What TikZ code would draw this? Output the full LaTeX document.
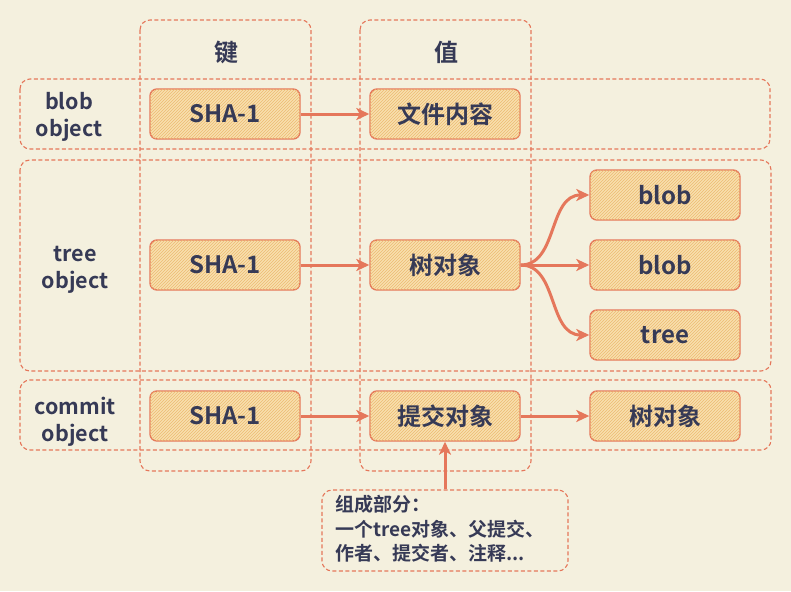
\documentclass[tikz,border=0pt]{standalone}
\usepackage{fontspec}
\setmainfont{Noto Sans CJK SC}[BoldFont={Noto Sans CJK SC Bold}]
\usetikzlibrary{arrows.meta,patterns}
\definecolor{bgc}{HTML}{F4F0DE}
\definecolor{strk}{HTML}{E5775B}
\definecolor{txt}{HTML}{363A56}
\definecolor{fillc}{HTML}{F8E0AE}
\definecolor{hatch}{HTML}{EDBB72}
\tikzset{
  dbox/.style={draw=strk, line width=1.1pt, dash pattern=on 4pt off 2.5pt, rounded corners=10pt},
  sbox/.style={draw=strk, line width=1.4pt, rounded corners=7pt, fill=fillc,
    postaction={pattern=north east lines, pattern color=hatch},
    minimum width=150pt, minimum height=50pt, inner sep=0pt,
    font=\bfseries\fontsize{24}{28}\selectfont, text=txt},
  lbl/.style={font=\bfseries\fontsize{21.5}{27}\selectfont, text=txt, align=center},
  arr/.style={draw=strk, line width=3pt, -{Stealth[length=13pt,width=12pt,inset=3.5pt]}},
}
\begin{document}
\begin{tikzpicture}[x=1pt,y=-1pt]
\fill[bgc] (0,0) rectangle (791,591);
\useasboundingbox (0,0) rectangle (791,591);
% column frames
\draw[dbox] (140,20) rectangle (311,471);
\draw[dbox] (360,20) rectangle (531,471);
% row frames
\draw[dbox] (20,79) rectangle (770,149);
\draw[dbox] (20,160) rectangle (771,371);
\draw[dbox] (20,380) rectangle (771,450);
% headers
\node[lbl, font=\bfseries\fontsize{24}{28}\selectfont] (hk) at (226,52) {键};
\node[lbl, font=\bfseries\fontsize{24}{28}\selectfont] (hv) at (446,52) {值};
% row labels
\node[lbl] (lb1) at (69,117) {blob\\object};
\node[lbl] (lb2) at (75,270) {tree\\object};
\node[lbl] (lb3) at (75,422) {commit\\object};
% boxes
\node[sbox] (s1) at (225,114) {SHA-1};
\node[sbox] (f1) at (445,114) {文件内容};
\node[sbox] (s2) at (225,265) {SHA-1};
\node[sbox] (t2) at (445,265) {树对象};
\node[sbox] (b1) at (665,195) {blob};
\node[sbox] (b2) at (665,265) {blob};
\node[sbox] (b3) at (665,335) {tree};
\node[sbox] (s3) at (225,416) {SHA-1};
\node[sbox] (c3) at (445,416) {提交对象};
\node[sbox] (t3) at (665,416) {树对象};
% note
\node[dbox, minimum width=246pt, minimum height=81pt, inner sep=0pt] (note) at (445,530.5) {};
\node[anchor=north west, text=txt, align=left, inner sep=0pt,
  font=\bfseries\fontsize{19}{24.5}\selectfont] (notetext) at (335,495) {组成部分：\\一个tree对象、父提交、\\作者、提交者、注释...};
% connectors
\draw[arr] (s1) -- (f1);
\draw[arr] (s2) -- (t2);
\draw[arr] (s3) -- (c3);
\draw[arr] (c3) -- (t3);
\draw[arr] (t2.east) -- (b2.west);
\draw[arr] (t2.east) .. controls (558,265) and (548,195) .. (b1.west);
\draw[arr] (t2.east) .. controls (558,265) and (548,335) .. (b3.west);
\draw[arr] (note.north) -- (c3.south);
\end{tikzpicture}
\end{document}
